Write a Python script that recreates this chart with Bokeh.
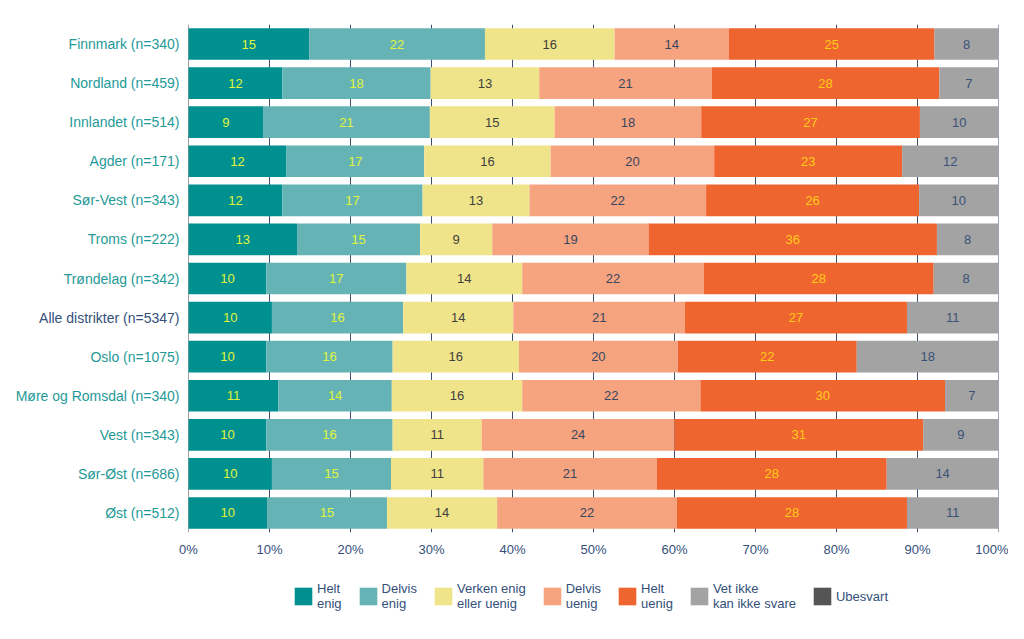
from bokeh.plotting import figure
from bokeh.layouts import column
from bokeh.models import (ColumnDataSource, FactorRange, FixedTicker, PrintfTickFormatter,
                          Legend, LegendItem, Range1d)
from bokeh.core.properties import value
from bokeh.embed import file_html
from bokeh.resources import INLINE

categories = ["Finnmark (n=340)", "Nordland (n=459)", "Innlandet (n=514)", "Agder (n=171)",
              "Sør-Vest (n=343)", "Troms (n=222)", "Trøndelag (n=342)", "Alle distrikter (n=5347)",
              "Oslo (n=1075)", "Møre og Romsdal (n=340)", "Vest (n=343)", "Sør-Øst (n=686)",
              "Øst (n=512)"]

helt_enig    = [14.9, 11.6, 9.2, 12.1, 11.6, 13.4, 9.6, 10.3, 9.6, 11.1, 9.6, 10.3, 9.7]
delvis_enig  = [21.7, 18.3, 20.6, 17.0, 17.3, 15.2, 17.3, 16.2, 15.6, 14.0, 15.6, 14.7, 14.8]
verken       = [16.0, 13.4, 15.4, 15.6, 13.2, 8.9, 14.3, 13.6, 15.6, 16.1, 11.0, 11.4, 13.6]
delvis_uenig = [14.1, 21.3, 18.1, 20.2, 21.8, 19.3, 22.4, 21.2, 19.6, 22.0, 23.8, 21.4, 22.2]
helt_uenig   = [25.4, 28.1, 27.0, 23.2, 26.3, 35.6, 28.4, 27.4, 22.1, 30.2, 30.7, 28.4, 28.4]
vet_ikke     = [7.9, 7.3, 9.7, 11.9, 9.8, 7.6, 8.0, 11.3, 17.5, 6.6, 9.3, 13.8, 11.3]
ubesvart     = [0.0] * 13

series_keys = ["helt_enig", "delvis_enig", "verken", "delvis_uenig", "helt_uenig", "vet_ikke", "ubesvart"]
series_vals = [helt_enig, delvis_enig, verken, delvis_uenig, helt_uenig, vet_ikke, ubesvart]
legend_labels = ["Helt\nenig", "Delvis\nenig", "Verken enig\neller uenig", "Delvis\nuenig",
                 "Helt\nuenig", "Vet ikke\nkan ikke svare", "Ubesvart"]
x_ticks = [0, 10, 20, 30, 40, 50, 60, 70, 80, 90, 100]

colors = ["#00908f", "#66b3b5", "#f0e48a", "#f5a47f", "#ef6530", "#a3a3a3", "#555555"]
text_colors = ["#e0f53a", "#e0f53a", "#404040", "#3a4660", "#ffcc1a", "#3b5278", "#3b5278"]
navy = "#34507a"
teal = "#1f9a98"
grid_col = "#3d4f6b"
FONT = "Liberation Sans"

data = {"cat": categories}
for k, v in zip(series_keys, series_vals):
    data[k] = v
source = ColumnDataSource(data)

# frame spans 0..998 px; 0% sits at 188 px, 100% at 998 px
p = figure(y_range=FactorRange(factors=list(reversed(categories))),
           x_range=Range1d(-23.21, 100),
           frame_width=998, frame_height=508, width=1008, height=572,
           output_backend="svg", toolbar_location=None,
           min_border_left=0, min_border_top=24, min_border_right=10, min_border_bottom=40)
p.outline_line_color = None
p.background_fill_color = None
p.border_fill_color = None
p.grid.grid_line_color = None

# vertical gridlines as segment glyphs spanning the whole categorical range (synthetic
# coordinates 0..n), drawn before the bars so that they show only in the gaps
n_cat = len(categories)
grid_colors = ["#a0a0a0" if t == 0 else grid_col for t in x_ticks]
p.segment(x0=x_ticks, x1=x_ticks, y0=[0] * len(x_ticks), y1=[n_cat] * len(x_ticks),
          line_color=grid_colors, line_width=1)

renderers = p.hbar_stack(series_keys, y="cat", height=0.81, color=colors, source=source,
                         line_color=None)

# value labels in the middle of each segment
lx, ly, lt, lc = [], [], [], []
for i, cat in enumerate(categories):
    cum = 0.0
    for s, vals in enumerate(series_vals):
        v = vals[i]
        if v > 0:
            lx.append(cum + v / 2)
            ly.append(cat)
            lt.append(str(int(v + 0.5)))
            lc.append(text_colors[s])
        cum += v
p.text(x=lx, y=ly, text=lt, text_color=lc, text_align="center", text_baseline="middle",
       text_font=value(FONT), text_font_size="13px")

# category labels (coloured individually)
cat_colors = [navy if c.startswith("Alle") else teal for c in categories]
p.text(x=[0] * len(categories), y=categories, text=categories, text_color=cat_colors,
       x_offset=-9, text_align="right", text_baseline="middle",
       text_font=value(FONT), text_font_size="14px")

p.yaxis.visible = False

p.xaxis.ticker = FixedTicker(ticks=x_ticks)
p.xaxis.formatter = PrintfTickFormatter(format="%d%%")
p.xaxis.axis_line_color = None
p.xaxis.major_tick_line_color = None
p.xaxis.minor_tick_line_color = None
p.xaxis.major_label_text_color = navy
p.xaxis.major_label_text_font = FONT
p.xaxis.major_label_text_font_size = "13px"
p.xaxis.major_label_standoff = 3

# legend in its own strip below
lg = figure(x_range=Range1d(0, 1), y_range=Range1d(0, 1),
            frame_width=998, frame_height=60, width=1008, height=60,
            output_backend="svg", toolbar_location=None,
            min_border_left=0, min_border_top=0, min_border_right=10, min_border_bottom=0)
lg.outline_line_color = None
lg.axis.visible = False
lg.grid.grid_line_color = None
items = []
for lab, c in zip(legend_labels, colors):
    # off-screen dummy glyph, only used to draw the legend swatch
    r = lg.rect(x=[5], y=[5], width=1, height=1, fill_color=c, line_color=None)
    items.append(LegendItem(label=lab, renderers=[r]))
legend = Legend(items=items, orientation="horizontal", location=(292, 21),
                glyph_width=22, glyph_height=22, label_standoff=3, spacing=15,
                label_text_font=FONT, label_text_font_size="13px", label_text_color=navy,
                label_text_line_height=1.15,
                border_line_color=None, background_fill_alpha=0, margin=0, padding=4)
lg.add_layout(legend)

layout = column(p, lg, spacing=0)
open("out.html", "w").write(file_html(layout, INLINE))
